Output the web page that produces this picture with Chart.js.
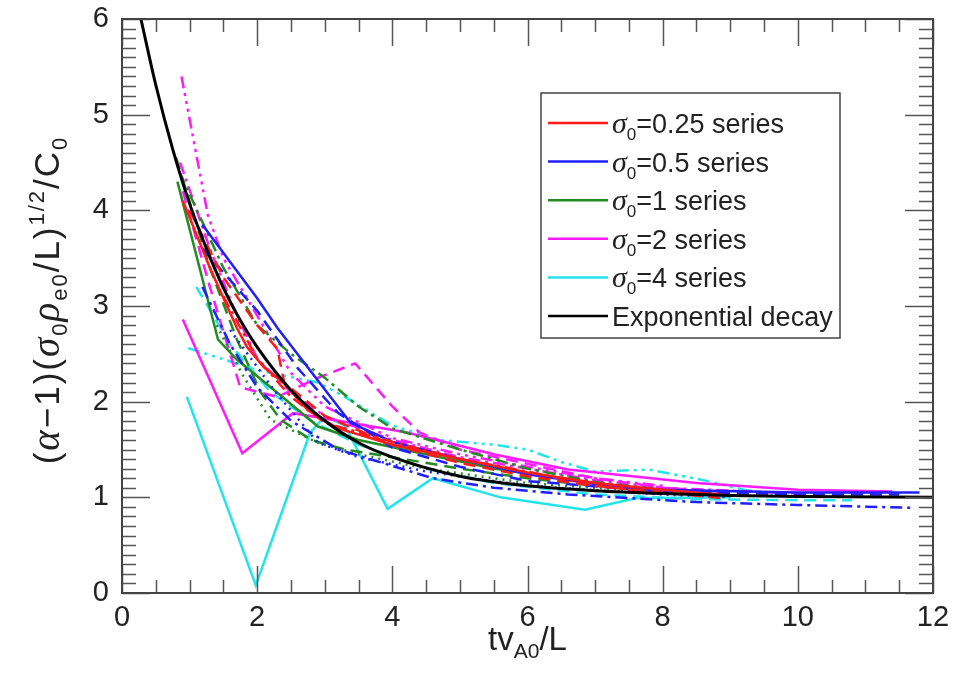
<!DOCTYPE html>
<html>
<head>
<meta charset="utf-8">
<script src="https://cdn.jsdelivr.net/npm/chart.js@4"></script>
<style>
html, body { margin: 0; padding: 0; background: #fff; }
</style>
</head>
<body>
<canvas id="myChart" width="957" height="674"></canvas>
<script>
// axis ticks
var xTicks = [0, 2, 4, 6, 8, 10, 12];
var yTicks = [0, 1, 2, 3, 4, 5, 6];

// series as [t, value]
var redSolid = [[0.9,4.1],[1.3,3.4],[1.7,2.77],[1.85,2.57],[2.1,2.36],[2.4,2.19],[2.75,1.91],[3.2,1.72],[4,1.55],[5,1.4],[6,1.26],[7,1.15],[8,1.08],[9,1.02]];
var redDash = [[1.0,4.0],[1.5,3.3],[2.0,2.8],[2.3,2.55],[2.4,2.2],[3,1.85],[4,1.55],[5,1.36],[6,1.22],[7,1.12],[8,1.05],[8.9,0.99]];
var redDashDot = [[1.5,3.1],[2.0,2.45],[2.5,2.05],[3,1.78],[4,1.58],[5,1.4],[6,1.27],[7,1.12],[8,1.04]];

var blueSolid = [[1.19,3.85],[2.0,3.08],[2.3,2.77],[3.38,1.78],[4,1.58],[5,1.4],[6,1.24],[7,1.14],[8,1.08],[10,1.05],[11.8,1.05]];
var blueDash = [[1.19,3.6],[1.5,3.35],[2.0,2.95],[2.6,2.35],[3.2,1.88],[4,1.52],[5,1.32],[6,1.17],[8,1.06],[10,1.03],[11.5,1.03]];
var blueDashDot = [[1.19,3.2],[1.6,2.6],[2.0,2.15],[2.5,1.8],[3.2,1.5],[4.6,1.2],[5.5,1.1],[6.6,1.03],[8.5,0.95],[10,0.92],[11.7,0.89]];
var blueDot = [[1.6,2.75],[2.25,2.12],[2.9,1.57],[3.5,1.42],[4.5,1.27],[6,1.12],[8,1.03],[9,1.0]];

var greenSolid = [[0.82,4.3],[1.42,2.65],[1.7,2.44],[2.2,2.15],[2.9,1.74],[3.5,1.6],[4.5,1.45],[5.5,1.3],[6.5,1.2],[7.5,1.1],[8.5,1.05]];
var greenDash = [[0.8,4.55],[1.3,3.4],[1.7,2.65],[2.05,2.1],[2.35,1.81],[2.8,1.6],[3.3,1.5],[4,1.42],[5,1.3],[6,1.2],[7,1.12],[8,1.06]];
var greenDashDot = [[0.85,4.4],[1.5,3.4],[2.0,2.8],[2.5,2.5],[3.0,2.25],[3.5,1.95],[4,1.72],[5,1.5],[6,1.3],[7,1.16],[8,1.08],[9,1.03]];
var greenDot = [[1.4,2.8],[1.8,2.26],[2.2,1.81],[2.9,1.57],[3.5,1.45],[4.5,1.3],[6,1.15],[8,1.05]];

var magentaSolid = [[0.9,2.86],[1.78,1.46],[2.53,1.88],[3.2,1.8],[4.2,1.68],[5.5,1.45],[6.6,1.29],[8.5,1.15],[10,1.08],[11.4,1.06]];
var magentaDash = [[0.9,4.2],[1.3,3.2],[1.75,2.15],[2.3,2.05],[2.9,2.25],[3.45,2.4],[4.0,1.95],[4.4,1.68],[5,1.5],[6,1.35],[7,1.2],[8,1.1],[9,1.05]];
var magentaDashDot = [[0.86,4.5],[1.3,3.6],[1.7,2.9],[2.0,2.45],[2.5,2.1],[3,1.85],[4,1.6],[5,1.42],[6,1.3],[7,1.18],[8,1.1],[10,1.04]];
var magentaDashDotDot = [[0.88,5.4],[1.27,3.95],[1.5,3.5],[2.0,2.9],[2.5,2.3],[3,1.95],[4,1.62],[5,1.45],[6,1.32],[7,1.2],[8,1.12]];

var cyanSolid = [[0.96,2.05],[1.98,0.08],[2.78,1.67],[3.0,1.85],[3.3,1.75],[3.93,0.88],[4.6,1.2],[5.6,1.0],[6.85,0.87],[7.6,0.99],[9,1.0]];
var cyanDashDot = [[0.98,2.56],[2.0,2.33],[2.9,2.2],[3.3,2.05],[4.0,1.75],[4.7,1.6],[5.5,1.55],[6.0,1.5],[6.5,1.37],[7.0,1.27],[7.8,1.29],[8.6,1.18],[9.2,1.08],[10,1.0]];
var cyanDash = [[1.1,3.2],[1.6,2.6],[2.2,2.1],[2.8,1.8],[3.5,1.55],[4.5,1.3],[5.5,1.15],[7,1.03],[8.5,0.98],[10,0.97],[10.8,0.97]];

var expT = [0.28,0.5,0.75,1,1.25,1.5,1.75,2,2.5,3,3.5,4,5,6,7,8,9,10,12];
var expV = [6.0,5.31,4.64,4.07,3.60,3.19,2.85,2.57,2.12,1.80,1.57,1.42,1.22,1.12,1.07,1.04,1.02,1.01,1.0];

var legendSigma = ['0.25', '0.5', '1', '2', '4'];

var RED = '#ff1a1a', BLUE = '#1f1fff', GREEN = '#228b22', MAGENTA = '#ff1aff', CYAN = '#22e5ec';
var SOLID = [], DASH = [12, 7], DASHDOT = [12, 5, 3, 5], DASHDOTDOT = [12, 5, 3, 5, 3, 5, 3, 5], DOT = [2, 5];

function pts(arr) {
    return arr.map(function(p) { return { x: p[0], y: p[1] }; });
}

function line(arr, color, dash) {
    return {
        data: pts(arr),
        borderColor: color,
        borderWidth: 2.5,
        borderDash: dash,
        pointRadius: 0,
        tension: 0,
        fill: false,
        order: 1
    };
}

var datasets = [
    line(redSolid, RED, SOLID), line(redDash, RED, DASH), line(redDashDot, RED, DASHDOT),
    line(blueSolid, BLUE, SOLID), line(blueDash, BLUE, DASH), line(blueDashDot, BLUE, DASHDOT), line(blueDot, BLUE, DOT),
    line(greenSolid, GREEN, SOLID), line(greenDash, GREEN, DASH), line(greenDashDot, GREEN, DASHDOT), line(greenDot, GREEN, DOT),
    line(magentaSolid, MAGENTA, SOLID), line(magentaDash, MAGENTA, DASH), line(magentaDashDot, MAGENTA, DASHDOT), line(magentaDashDotDot, MAGENTA, DASHDOTDOT),
    line(cyanSolid, CYAN, SOLID), line(cyanDashDot, CYAN, DASHDOTDOT), line(cyanDash, CYAN, DASH)
];
datasets.push({
    data: expT.map(function(t, i) { return { x: t, y: expV[i] }; }),
    borderColor: '#000',
    borderWidth: 3,
    pointRadius: 0,
    cubicInterpolationMode: 'monotone',
    fill: false,
    order: 0
});

var SANS = '"Liberation Sans", Arial, sans-serif';
var SERIF = '"Liberation Serif", "Times New Roman", serif';

// draw a row of text pieces, each {t, font, dy}
function rich(ctx, parts, x, y, center, gap) {
    gap = gap || 0;
    var w = 0;
    parts.forEach(function(p) { ctx.font = p.font; w += ctx.measureText(p.t).width + gap * p.t.length; });
    var cx = center ? x - w / 2 : x;
    parts.forEach(function(p) {
        ctx.font = p.font;
        for (var c = 0; c < p.t.length; c++) {
            var ch = p.t.charAt(c);
            ctx.fillText(ch, cx, y + (p.dy || 0));
            cx += ctx.measureText(ch).width + gap;
        }
    });
}

var framePlugin = {
    id: 'frame',
    afterDraw: function(chart) {
        var ctx = chart.ctx, a = chart.chartArea;
        var xs = chart.scales.x, ys = chart.scales.y;
        ctx.save();
        ctx.strokeStyle = '#555';
        ctx.lineWidth = 1.5;
        var v, p, len;
        for (v = 0; v <= 12.001; v += 0.5) {
            p = Math.round(xs.getPixelForValue(v)) + 0.5;
            len = (Math.abs(v % 2) < 0.01) ? 27 : 13;
            ctx.beginPath();
            ctx.moveTo(p, a.bottom); ctx.lineTo(p, a.bottom - len);
            ctx.moveTo(p, a.top); ctx.lineTo(p, a.top + len);
            ctx.stroke();
        }
        for (var i = 0; i <= 60; i++) {
            v = i / 10;
            p = Math.round(ys.getPixelForValue(v)) + 0.5;
            len = (i % 10 === 0) ? 28 : 14;
            ctx.beginPath();
            ctx.moveTo(a.left, p); ctx.lineTo(a.left + len, p);
            ctx.moveTo(a.right, p); ctx.lineTo(a.right - len, p);
            ctx.stroke();
        }
        ctx.lineWidth = 2;
        ctx.strokeStyle = '#444';
        ctx.strokeRect(a.left, a.top, a.right - a.left, a.bottom - a.top);

        // axis titles
        ctx.fillStyle = '#222';
        ctx.textBaseline = 'alphabetic';
        ctx.textAlign = 'left';
        var big = '33px ' + SANS, small = '21px ' + SANS;
        rich(ctx, [
            { t: 'tv', font: big },
            { t: 'A0', font: small, dy: 8 },
            { t: '/L', font: big }
        ], (a.left + a.right) / 2, 650, true);

        var yBig = '35px ' + SANS, ySmall = '22px ' + SANS, yGreek = 'italic 39px ' + SERIF;
        ctx.save();
        ctx.translate(59, 300);
        ctx.rotate(-Math.PI / 2);
        rich(ctx, [
            { t: '(', font: yBig },
            { t: 'α', font: yGreek },
            { t: '−1)(', font: yBig },
            { t: 'σ', font: yGreek },
            { t: '0', font: ySmall, dy: 8 },
            { t: 'ρ', font: yGreek },
            { t: 'e0', font: ySmall, dy: 8 },
            { t: '/L)', font: yBig },
            { t: '1/2', font: ySmall, dy: -15 },
            { t: '/C', font: yBig },
            { t: '0', font: ySmall, dy: 8 }
        ], 0, 0, true, 2);
        ctx.restore();

        // legend
        var lx = 541, ly = 93, lw = 299, lh = 245;
        ctx.fillStyle = '#fff';
        ctx.fillRect(lx, ly, lw, lh);
        ctx.strokeStyle = '#444';
        ctx.lineWidth = 1.5;
        ctx.strokeRect(lx, ly, lw, lh);
        var lBig = '27px ' + SANS, lSmall = '17px ' + SANS, lGreek = 'italic 30px ' + SERIF;
        var colors = [RED, BLUE, GREEN, MAGENTA, CYAN, '#000'];
        for (var k = 0; k < 6; k++) {
            var ry = 123 + k * 38.6;
            ctx.strokeStyle = colors[k];
            ctx.lineWidth = 2.5;
            ctx.setLineDash([]);
            ctx.beginPath();
            ctx.moveTo(548, ry); ctx.lineTo(608, ry);
            ctx.stroke();
            ctx.fillStyle = '#222';
            if (k < 5) {
                rich(ctx, [
                    { t: 'σ', font: lGreek },
                    { t: '0', font: lSmall, dy: 7 },
                    { t: '=' + legendSigma[k] + ' series', font: lBig }
                ], 612, ry + 10, false);
            } else {
                rich(ctx, [{ t: 'Exponential decay', font: lBig }], 612, ry + 10, false);
            }
        }
        ctx.restore();
    }
};

var ctx = document.getElementById('myChart').getContext('2d');
var myChart = new Chart(ctx, {
    type: 'line',
    data: { datasets: datasets },
    options: {
        responsive: false,
        animation: false,
        devicePixelRatio: 1,
        layout: { padding: { top: 19, right: 24, left: 0, bottom: 0 } },
        plugins: { legend: { display: false }, tooltip: { enabled: false } },
        scales: {
            x: {
                type: 'linear',
                min: 0, max: 12,
                afterFit: function(s) { s.height = 81; s.paddingLeft = 0; s.paddingRight = 0; },
                afterBuildTicks: function(s) { s.ticks = xTicks.map(function(v) { return { value: v }; }); },
                grid: { display: false },
                border: { display: false },
                ticks: { color: '#222', padding: 0, maxRotation: 0, font: { family: SANS, size: 29 } }
            },
            y: {
                type: 'linear',
                min: 0, max: 6,
                afterFit: function(s) { s.width = 122; s.paddingTop = 0; s.paddingBottom = 0; },
                afterBuildTicks: function(s) { s.ticks = yTicks.map(function(v) { return { value: v }; }); },
                grid: { display: false },
                border: { display: false },
                ticks: { color: '#222', padding: 5, font: { family: SANS, size: 29 } }
            }
        }
    },
    plugins: [framePlugin]
});
</script>
</body>
</html>
